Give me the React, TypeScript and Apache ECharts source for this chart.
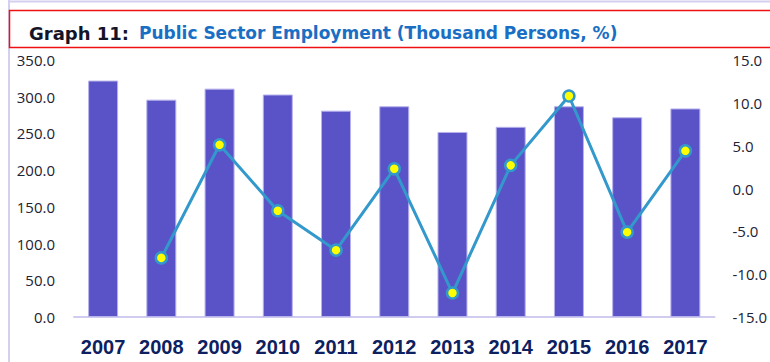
import React, { useEffect, useRef } from "react";
import * as echarts from "echarts";

const years = ["2007", "2008", "2009", "2010", "2011", "2012", "2013", "2014", "2015", "2016", "2017"];
const employment = [322, 296, 311, 303, 281, 287, 252, 259, 287, 272, 284];
const growth = [null, -8.1, 5.1, -2.6, -7.2, 2.3, -12.2, 2.7, 10.8, -5.1, 4.4];
const leftTicks = { min: 0, max: 350, interval: 50 };
const rightTicks = { min: -15, max: 15, interval: 5 };
const titleLabel = "Graph 11:";
const titleText = "Public Sector Employment (Thousand Persons, %)";

export default function App() {
  const ref = useRef<HTMLDivElement>(null);
  useEffect(() => {
    if (!ref.current) return;
    const chart = echarts.init(ref.current, null, { renderer: "svg" });
    chart.setOption({
      animation: false,
      backgroundColor: "#ffffff",
      graphic: [
        { type: "line", shape: { x1: 8, y1: 1.5, x2: 770, y2: 1.5 }, style: { stroke: "#d4d0f0", lineWidth: 2 } },
        { type: "line", shape: { x1: 9, y1: 0, x2: 9, y2: 362 }, style: { stroke: "#d4d0f0", lineWidth: 2 } },
        { type: "rect", shape: { x: 9.5, y: 10.5, width: 780, height: 37 }, style: { fill: "none", stroke: "#ee1111", lineWidth: 1.5 } },
      ],
      title: {
        text: "{a|" + titleLabel + "}  {b|" + titleText + "}",
        left: 29,
        top: 24,
        padding: 0,
        textStyle: {
          rich: {
            a: { fontFamily: "DejaVu Sans", fontWeight: "bold", fontSize: 18, color: "#141428" },
            b: { fontFamily: "DejaVu Sans", fontWeight: "bold", fontSize: 17, color: "#1a6fc4" },
          },
        },
      },
      grid: { left: 74, right: 53, top: 60, bottom: 45 },
      xAxis: {
        type: "category",
        data: years,
        axisLine: { lineStyle: { color: "#d0ccf0", width: 2 } },
        axisTick: { show: false },
        axisLabel: { color: "#0d2060", fontFamily: "Liberation Sans", fontWeight: "bold", fontSize: 20, margin: 20 },
      },
      yAxis: [
        {
          type: "value",
          min: leftTicks.min,
          max: leftTicks.max,
          interval: leftTicks.interval,
          axisLine: { show: false },
          axisTick: { show: false },
          splitLine: { show: false },
          axisLabel: { color: "#222233", fontFamily: "Open Sans", fontSize: 15, margin: 19, formatter: (v: number) => v.toFixed(1) },
        },
        {
          type: "value",
          min: rightTicks.min,
          max: rightTicks.max,
          interval: rightTicks.interval,
          axisLine: { show: false },
          axisTick: { show: false },
          splitLine: { show: false },
          axisLabel: { color: "#222233", fontFamily: "Open Sans", fontSize: 15, margin: 18, formatter: (v: number) => v.toFixed(1) },
        },
      ],
      series: [
        {
          type: "bar",
          data: employment,
          barWidth: 30,
          itemStyle: { color: "#5a53c8", borderColor: "#b8b2ec", borderWidth: 1 },
        },
        {
          type: "line",
          yAxisIndex: 1,
          data: growth,
          lineStyle: { color: "#3399cc", width: 3 },
          symbol: "circle",
          symbolSize: 11,
          itemStyle: { color: "#ffff00", borderColor: "#3399cc", borderWidth: 2.5 },
        },
      ],
    });
    return () => chart.dispose();
  }, []);
  return <div ref={ref} style={{ position: "fixed", left: 0, top: 0, width: 770, height: 362 }} />;
}
